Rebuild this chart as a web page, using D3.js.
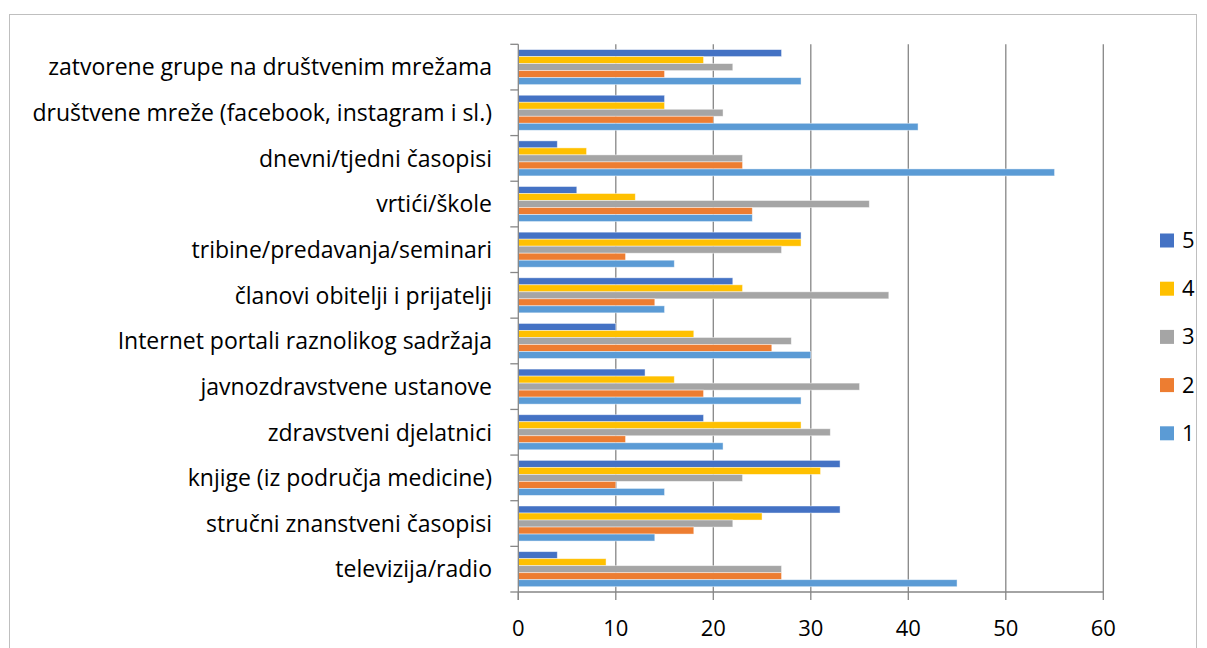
<!DOCTYPE html>
<html lang="hr">
    <head>
        <meta charset="utf-8">
        <title>Izvori informacija</title>
        <script type="text/javascript" src="https://cdn.jsdelivr.net/npm/d3@7"></script>
        <style type="text/css">
            body { margin: 0; background: #fff; }
            text { font-family: "Open Sans", sans-serif; fill: #000; }
        </style>
    </head>

    <body>
        <script type="text/javascript">
            // Categories, top to bottom as shown
            var categories = [
                "zatvorene grupe na društvenim mrežama",
                "društvene mreže (facebook, instagram i sl.)",
                "dnevni/tjedni časopisi",
                "vrtići/škole",
                "tribine/predavanja/seminari",
                "članovi obitelji i prijatelji",
                "Internet portali raznolikog sadržaja",
                "javnozdravstvene ustanove",
                "zdravstveni djelatnici",
                "knjige (iz područja medicine)",
                "stručni znanstveni časopisi",
                "televizija/radio"
            ];

            // Series values, same order as categories
            var s5 = [27, 15, 4, 6, 29, 22, 10, 13, 19, 33, 33, 4];
            var s4 = [19, 15, 7, 12, 29, 23, 18, 16, 29, 31, 25, 9];
            var s3 = [22, 21, 23, 36, 27, 38, 28, 35, 32, 23, 22, 27];
            var s2 = [15, 20, 23, 24, 11, 14, 26, 19, 11, 10, 18, 27];
            var s1 = [29, 41, 55, 24, 16, 15, 30, 29, 21, 15, 14, 45];

            var seriesNames = ["5", "4", "3", "2", "1"];
            var seriesColors = ["#4472C4", "#FFC000", "#A5A5A5", "#ED7D31", "#5B9BD5"];
            var xTicks = [0, 10, 20, 30, 40, 50, 60];

            var series = [s5, s4, s3, s2, s1];

            var w = 1207;
            var h = 648;

            var svg = d3.select("body")
                        .append("svg")
                        .attr("width", w)
                        .attr("height", h);

            // Chart border
            svg.append("rect")
                .attr("x", 9.5)
                .attr("y", 14.5)
                .attr("width", 1187)
                .attr("height", 700)
                .attr("fill", "none")
                .attr("stroke", "#bfbfbf")
                .attr("stroke-width", 1);

            var plotLeft = 518.3, plotRight = 1103.3;
            var plotTop = 44.3, plotBottom = 592;

            var x = d3.scaleLinear()
                      .domain([0, 60])
                      .range([plotLeft, plotRight]);

            var y = d3.scaleBand()
                      .domain(categories)
                      .range([plotTop, plotBottom])
                      .paddingInner(0)
                      .paddingOuter(0);

            var inner = d3.scaleBand()
                          .domain(seriesNames)
                          .range([y.bandwidth() * 0.116, y.bandwidth() * 0.884]);

            // Vertical gridlines
            svg.append("g")
                .selectAll("line")
                .data(xTicks.slice(1))
                .enter()
                .append("line")
                .attr("x1", function(d) { return x(d); })
                .attr("x2", function(d) { return x(d); })
                .attr("y1", plotTop)
                .attr("y2", plotBottom)
                .attr("stroke", "#868686")
                .attr("stroke-width", 1.3);

            // Bars
            var groups = svg.append("g")
                .selectAll("g")
                .data(series)
                .enter()
                .append("g")
                .attr("fill", function(d, i) { return seriesColors[i]; });

            groups.selectAll("rect")
                .data(function(d, i) {
                    return d.map(function(v, j) {
                        return { value: v, cat: categories[j], s: seriesNames[i] };
                    });
                })
                .enter()
                .append("rect")
                .attr("x", x(0))
                .attr("y", function(d) { return y(d.cat) + inner(d.s); })
                .attr("width", function(d) { return x(d.value) - x(0); })
                .attr("height", inner.bandwidth())
                .attr("stroke", "#ffffff")
                .attr("stroke-opacity", 0.55)
                .attr("stroke-width", 0.8);

            // Left axis (category ticks at band edges, outward)
            var yAxis = svg.append("g");
            yAxis.append("line")
                .attr("x1", plotLeft).attr("x2", plotLeft)
                .attr("y1", plotTop).attr("y2", plotBottom + 8)
                .attr("stroke", "#868686").attr("stroke-width", 1.3);
            yAxis.selectAll("line.tick")
                .data(categories.concat(["end"]))
                .enter()
                .append("line")
                .attr("class", "tick")
                .attr("x1", plotLeft - 8).attr("x2", plotLeft)
                .attr("y1", function(d, i) { return plotTop + i * y.step(); })
                .attr("y2", function(d, i) { return plotTop + i * y.step(); })
                .attr("stroke", "#868686").attr("stroke-width", 1.3);
            yAxis.selectAll("text")
                .data(categories)
                .enter()
                .append("text")
                .text(function(d) { return d; })
                .attr("x", 492)
                .attr("y", function(d) { return y(d) + y.bandwidth() / 2; })
                .attr("dy", "0.36em")
                .attr("text-anchor", "end")
                .attr("font-size", "23px");

            // Bottom axis
            var xAxis = svg.append("g");
            xAxis.append("line")
                .attr("x1", plotLeft).attr("x2", plotRight)
                .attr("y1", plotBottom).attr("y2", plotBottom)
                .attr("stroke", "#868686").attr("stroke-width", 1.3);
            xAxis.selectAll("line.tick")
                .data(xTicks)
                .enter()
                .append("line")
                .attr("class", "tick")
                .attr("x1", function(d) { return x(d); })
                .attr("x2", function(d) { return x(d); })
                .attr("y1", plotBottom).attr("y2", plotBottom + 8)
                .attr("stroke", "#868686").attr("stroke-width", 1.3);
            xAxis.selectAll("text")
                .data(xTicks)
                .enter()
                .append("text")
                .text(function(d) { return d; })
                .attr("x", function(d) { return x(d); })
                .attr("y", 635.5)
                .attr("text-anchor", "middle")
                .attr("font-size", "22px");

            // Legend
            var legend = svg.append("g")
                .selectAll("g")
                .data(seriesNames)
                .enter()
                .append("g")
                .attr("transform", function(d, i) {
                    return "translate(1160," + (233.5 + i * 48.2) + ")";
                });
            legend.append("rect")
                .attr("width", 14)
                .attr("height", 14)
                .attr("fill", function(d, i) { return seriesColors[i]; });
            legend.append("text")
                .text(function(d) { return d; })
                .attr("x", 22)
                .attr("y", 14.5)
                .attr("font-size", "22px");
        </script>
    </body>
</html>
